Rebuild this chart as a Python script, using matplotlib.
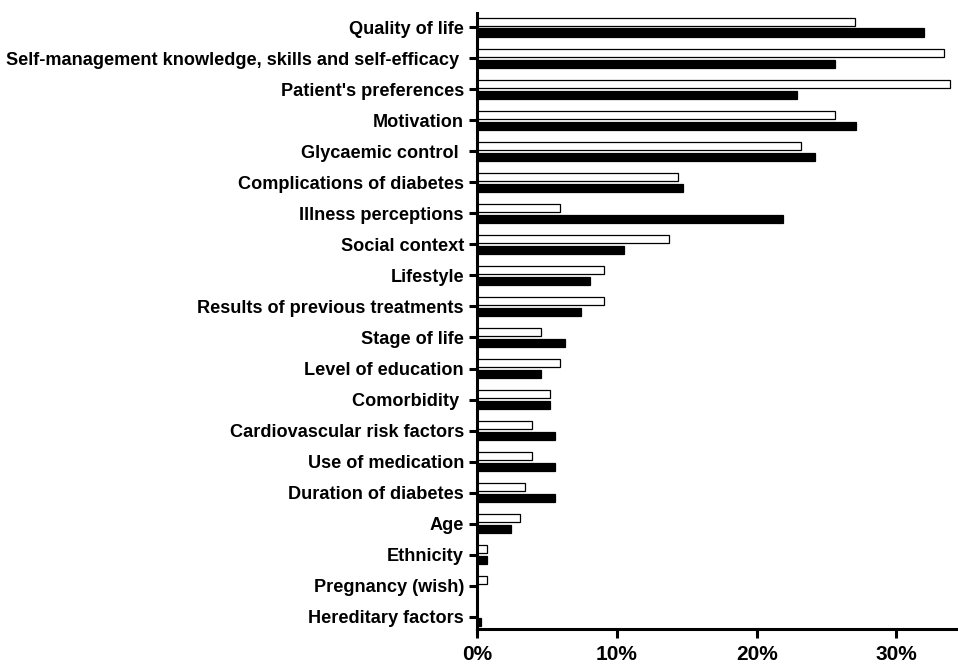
import matplotlib.pyplot as plt
import numpy as np

plt.rcParams['font.family'] = ['Liberation Sans', 'DejaVu Sans']
plt.rcParams['font.weight'] = 'bold'

categories = ['Quality of life',
              'Self-management knowledge, skills and self-efficacy ',
              "Patient's preferences",
              'Motivation',
              'Glycaemic control ',
              'Complications of diabetes',
              'Illness perceptions',
              'Social context',
              'Lifestyle',
              'Results of previous treatments',
              'Stage of life',
              'Level of education',
              'Comorbidity ',
              'Cardiovascular risk factors',
              'Use of medication',
              'Duration of diabetes',
              'Age',
              'Ethnicity',
              'Pregnancy (wish)',
              'Hereditary factors']

# percentages, white (open) bars and black (filled) bars
white_vals = [27.0, 33.4, 33.8, 25.6, 23.2, 14.4, 5.9, 13.7, 9.1, 9.1,
              4.6, 5.9, 5.2, 3.9, 3.9, 3.4, 3.1, 0.7, 0.7, 0.0]
black_vals = [32.0, 25.6, 22.9, 27.1, 24.2, 14.7, 21.9, 10.5, 8.1, 7.4,
              6.3, 4.6, 5.2, 5.6, 5.6, 5.6, 2.4, 0.7, 0.0, 0.3]

y = np.arange(len(categories))
h = 0.26

fig = plt.figure(figsize=(9.58, 6.64), dpi=100)
ax = fig.add_axes([0.498, 0.053, 0.502, 0.927])

ax.barh(y - 0.17, white_vals, height=h, color='white', edgecolor='black', linewidth=0.9)
ax.barh(y + 0.17, black_vals, height=h, color='black', edgecolor='black', linewidth=0.9)

ax.set_ylim(19.39, -0.45)
ax.set_xlim(0, 34.4)
ax.set_yticks(y)
ax.set_yticklabels(categories, fontsize=13.1, fontweight='bold')
ax.set_xticks([0, 10, 20, 30])
ax.set_xticklabels(['0%', '10%', '20%', '30%'], fontsize=15, fontweight='bold')

for s in ['top', 'right']:
    ax.spines[s].set_visible(False)
for s in ['left', 'bottom']:
    ax.spines[s].set_linewidth(2.2)
ax.tick_params(axis='y', width=2.2, length=6, pad=3.5)
ax.tick_params(axis='x', width=2.2, length=6.5, pad=5)

fig.savefig('out.png', dpi=100)
